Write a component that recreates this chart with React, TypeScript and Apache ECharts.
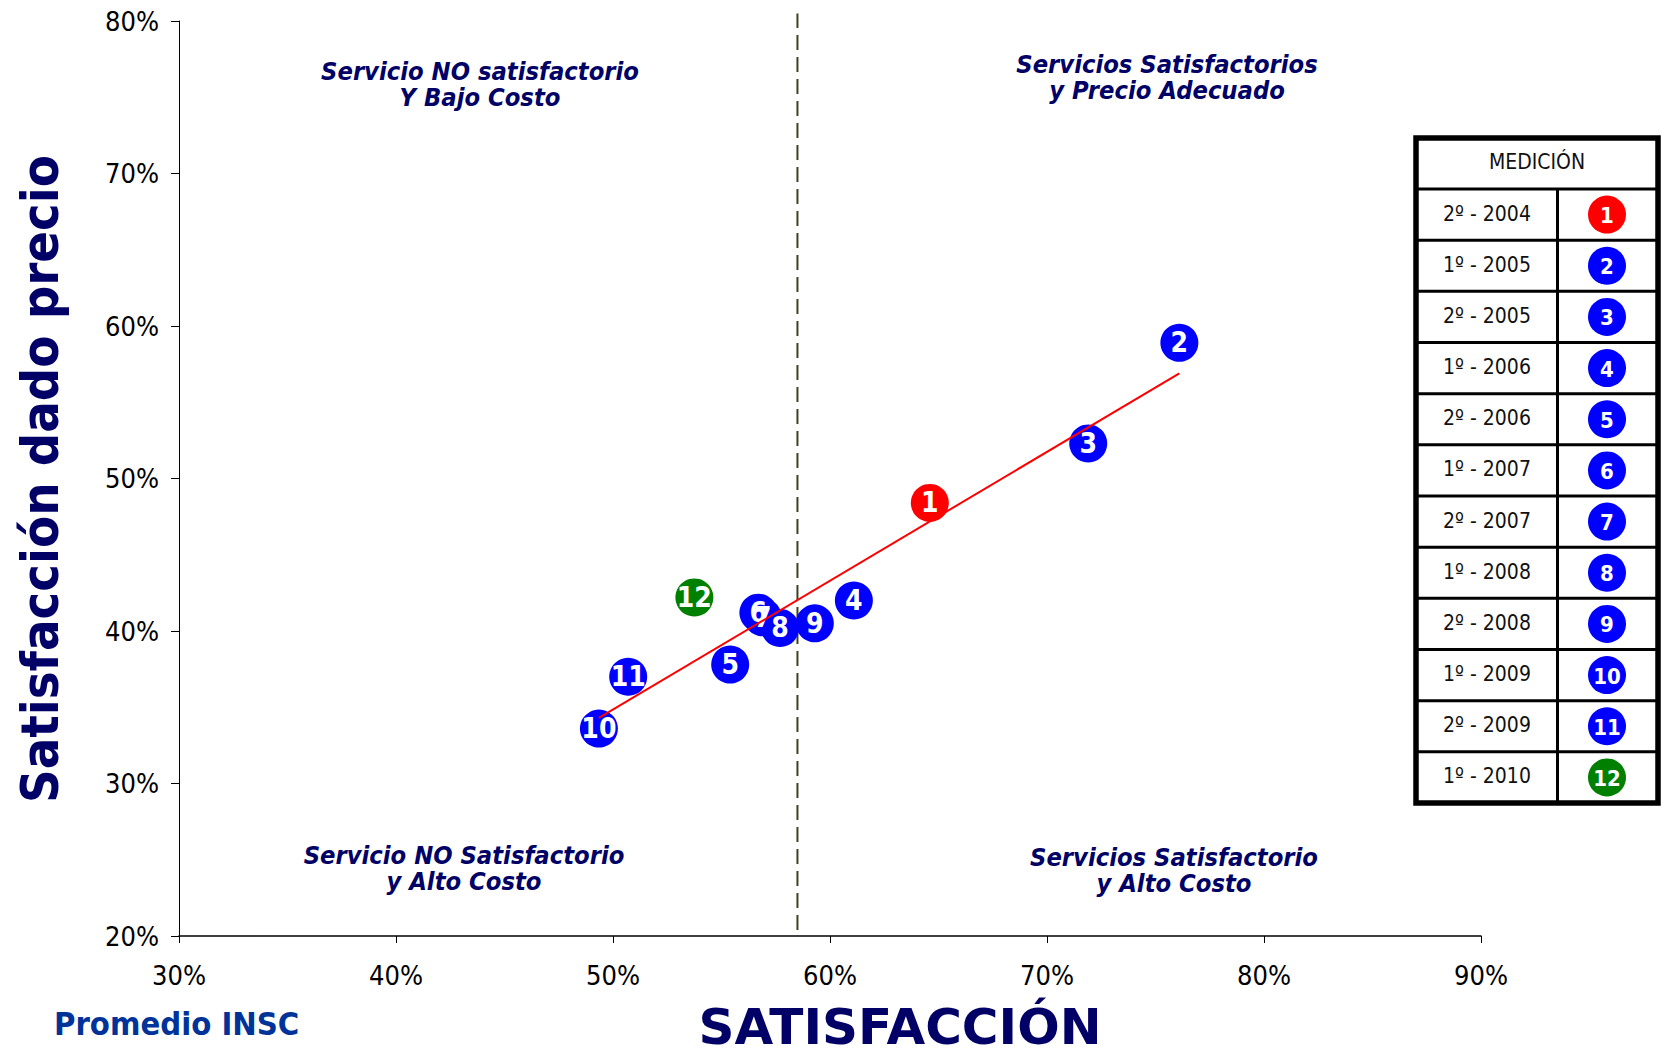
import React, { useEffect, useRef } from "react";
import * as echarts from "echarts";

// ---- Data ----
const periods = [
  "2º - 2004", "1º - 2005", "2º - 2005", "1º - 2006", "2º - 2006", "1º - 2007",
  "2º - 2007", "1º - 2008", "2º - 2008", "1º - 2009", "2º - 2009", "1º - 2010",
];
const satisfaction = [64.6, 76.1, 71.9, 61.1, 55.4, 56.7, 56.9, 57.7, 59.3, 49.35, 50.7, 53.75];
const satisfactionGivenPrice = [48.4, 58.9, 52.3, 42.0, 37.8, 41.2, 40.9, 40.2, 40.5, 33.6, 37.0, 42.2];
const pointColors = [
  "#FF0000", "#0000FF", "#0000FF", "#0000FF", "#0000FF", "#0000FF",
  "#0000FF", "#0000FF", "#0000FF", "#0000FF", "#0000FF", "#008000",
];
const trendX = [49.35, 76.1];
const trendY = [34.3, 56.9];
const averageSatisfaction = 58.5; // "Promedio INSC"
const averageLineY = [20.4, 80.5];
const xMin = 30, xMax = 90, xStep = 10;
const yMin = 20, yMax = 80, yStep = 10;

const quadrants = [
  { lines: ["Servicio NO satisfactorio", "Y Bajo Costo"], x: 480, y: 71 },
  { lines: ["Servicios Satisfactorios", "y Precio Adecuado"], x: 1167, y: 64 },
  { lines: ["Servicio NO Satisfactorio", "y Alto Costo"], x: 464, y: 855 },
  { lines: ["Servicios Satisfactorio", "y Alto Costo"], x: 1174, y: 857 },
];

const COND = "'DejaVu Sans Condensed', 'DejaVu Sans', sans-serif";
const NAVY = "#000066";

function buildLegendTable(): any[] {
  const left = 1416, right = 1658, top = 138, headerBottom = 189, bottom = 803;
  const divX = 1557.5;
  const rowH = (bottom - headerBottom) / periods.length;
  const els: any[] = [];
  els.push({
    type: "rect",
    shape: { x: left, y: top, width: right - left, height: bottom - top },
    style: { fill: "#ffffff", stroke: "#000000", lineWidth: 5.5 },
    z: 10,
  });
  els.push({
    type: "text",
    x: (left + right) / 2,
    y: (top + headerBottom) / 2 - 2,
    style: {
      text: "MEDICIÓN", fill: "#111", fontSize: 21, fontFamily: COND,
      align: "center", verticalAlign: "middle", textAlign: "center", textVerticalAlign: "middle",
    },
    z: 11,
  });
  for (let i = 0; i < periods.length; i++) {
    const yTop = headerBottom + i * rowH;
    els.push({
      type: "line",
      shape: { x1: left, y1: yTop, x2: right, y2: yTop },
      style: { stroke: "#000", lineWidth: 3 },
      z: 11,
    });
    const cy = yTop + rowH / 2;
    els.push({
      type: "text",
      x: 1487,
      y: cy - 1,
      style: {
        text: periods[i], fill: "#111", fontSize: 21, fontFamily: COND,
        align: "center", verticalAlign: "middle", textAlign: "center", textVerticalAlign: "middle",
      },
      z: 11,
    });
    els.push({
      type: "circle",
      shape: { cx: 1607, cy: cy, r: 19 },
      style: { fill: pointColors[i] },
      z: 11,
    });
    els.push({
      type: "text",
      x: 1607,
      y: cy + 1,
      style: {
        text: String(i + 1), fill: "#fff", fontSize: 22, fontWeight: "bold", fontFamily: COND,
        align: "center", verticalAlign: "middle", textAlign: "center", textVerticalAlign: "middle",
      },
      z: 12,
    });
  }
  els.push({
    type: "line",
    shape: { x1: divX, y1: headerBottom, x2: divX, y2: bottom },
    style: { stroke: "#000", lineWidth: 3 },
    z: 11,
  });
  return els;
}

export default function App() {
  const ref = useRef<HTMLDivElement>(null);
  useEffect(() => {
    if (!ref.current) return;
    const chart = echarts.init(ref.current, undefined, { renderer: "svg" });

    const points = satisfaction.map((x, i) => ({
      value: [x, satisfactionGivenPrice[i]],
      itemStyle: { color: pointColors[i], opacity: 1 },
    }));

    const graphics: any[] = [];
    quadrants.forEach((q) => {
      q.lines.forEach((line, li) => {
        graphics.push({
          type: "text",
          x: q.x,
          y: q.y + li * 26.5,
          style: {
            text: line, fill: NAVY, fontSize: 25.3, fontWeight: "bold", fontStyle: "italic",
            fontFamily: COND,
            align: "center", verticalAlign: "middle", textAlign: "center", textVerticalAlign: "middle",
          },
          z: 1,
        });
      });
    });
    graphics.push({
      type: "text",
      x: 40,
      y: 479,
      rotation: Math.PI / 2,
      style: {
        text: "Satisfacción dado precio", fill: NAVY, fontSize: 52, fontWeight: "bold",
        fontFamily: COND,
        align: "center", verticalAlign: "middle", textAlign: "center", textVerticalAlign: "middle",
      },
    });
    graphics.push({
      type: "text",
      x: 900,
      y: 1027,
      style: {
        text: "SATISFACCIÓN", fill: NAVY, fontSize: 50, fontWeight: "bold",
        fontFamily: "'DejaVu Sans', sans-serif",
        align: "center", verticalAlign: "middle", textAlign: "center", textVerticalAlign: "middle",
      },
    });
    graphics.push({
      type: "text",
      x: 54,
      y: 1024,
      style: {
        text: "Promedio INSC", fill: "#003399", fontSize: 32.5, fontWeight: "bold", fontFamily: COND,
        align: "left", verticalAlign: "middle", textAlign: "left", textVerticalAlign: "middle",
      },
    });
    graphics.push(...buildLegendTable());

    chart.setOption({
      animation: false,
      backgroundColor: "#ffffff",
      grid: { left: 179, right: 180, top: 21, bottom: 119, containLabel: false },
      xAxis: {
        type: "value",
        min: xMin,
        max: xMax,
        interval: xStep,
        splitLine: { show: false },
        axisLine: { show: true, lineStyle: { color: "#000", width: 1.5 } },
        axisTick: { show: true, length: 7, lineStyle: { color: "#000", width: 1 } },
        axisLabel: {
          formatter: (v: number) => `${v}%`, color: "#000", fontSize: 27, fontFamily: COND, margin: 26,
        },
      },
      yAxis: {
        type: "value",
        min: yMin,
        max: yMax,
        interval: yStep,
        splitLine: { show: false },
        axisLine: { show: true, onZero: false, lineStyle: { color: "#000", width: 1 } },
        axisTick: { show: true, length: 8, lineStyle: { color: "#000", width: 1 } },
        axisLabel: {
          formatter: (v: number) => `${v}%`, color: "#000", fontSize: 27, fontFamily: COND, margin: 20,
        },
      },
      graphic: graphics,
      series: [
        {
          type: "line",
          data: averageLineY.map((y) => [averageSatisfaction, y]),
          symbol: "none",
          clip: false,
          lineStyle: { color: "#404020", width: 2, type: [15, 7] },
          z: 1,
          silent: true,
        },
        {
          type: "scatter",
          data: points,
          symbol: "circle",
          symbolSize: 38,
          z: 3,
          emphasis: { disabled: true },
          label: {
            show: true,
            position: "inside",
            formatter: (p: any) => String(p.dataIndex + 1),
            color: "#ffffff",
            fontSize: 28,
            fontWeight: "bold",
            fontFamily: COND,
          },
        },
        {
          type: "line",
          data: trendX.map((x, i) => [x, trendY[i]]),
          symbol: "none",
          lineStyle: { color: "#FF0000", width: 2 },
          z: 5,
          silent: true,
        },
      ],
    });
    return () => chart.dispose();
  }, []);
  return (
    <div
      ref={ref}
      style={{ position: "fixed", left: 0, top: 0, width: 1661, height: 1055, background: "#fff" }}
    />
  );
}
